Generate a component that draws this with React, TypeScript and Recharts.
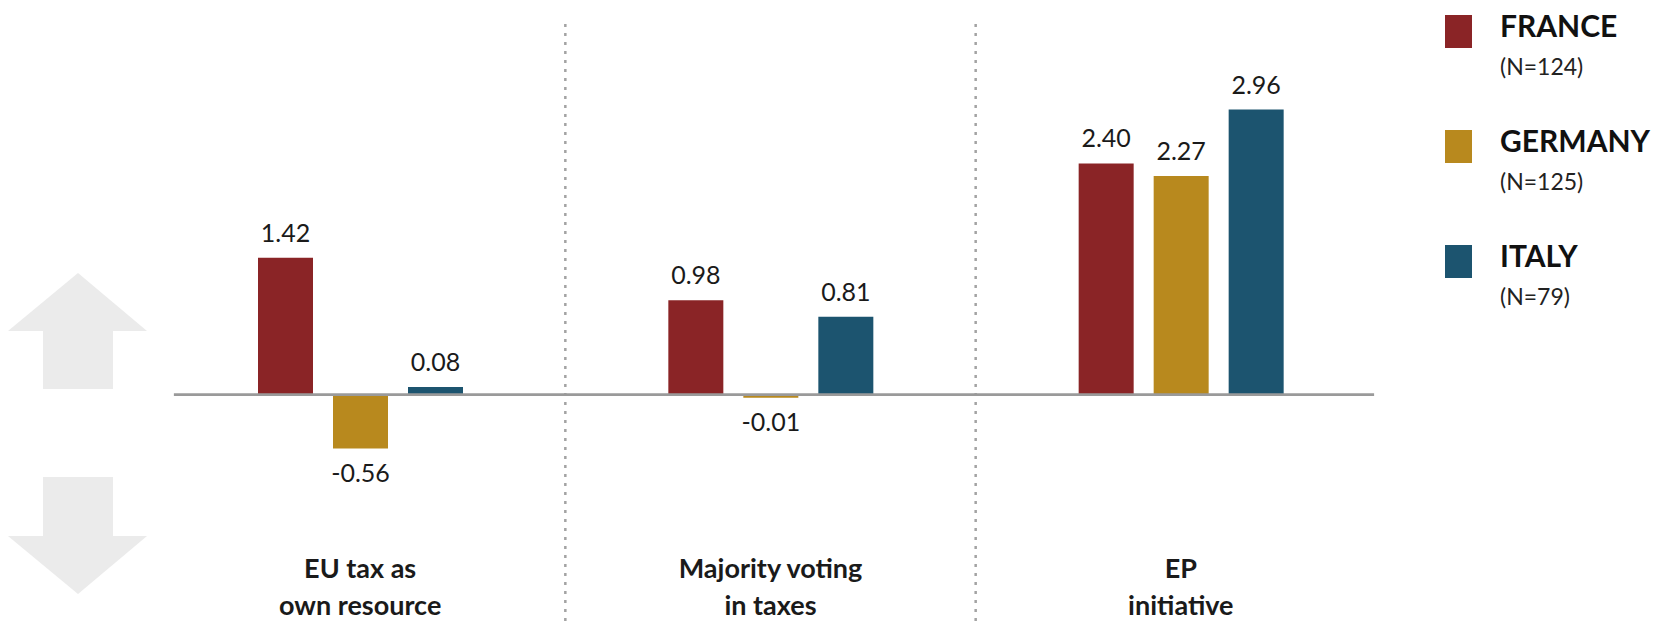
import React from "react";
import { BarChart, Bar, XAxis, YAxis, ReferenceLine, LabelList } from "recharts";

// category labels (two lines each)
const categories = [
  ["EU tax as", "own resource"],
  ["Majority voting", "in taxes"],
  ["EP", "initiative"],
];

const france = [1.42, 0.98, 2.4];
const germany = [-0.56, -0.01, 2.27];
const italy = [0.08, 0.81, 2.96];

const series = [
  { key: "france", name: "FRANCE", n: "(N=124)", color: "#8A2426" },
  { key: "germany", name: "GERMANY", n: "(N=125)", color: "#B8891E" },
  { key: "italy", name: "ITALY", n: "(N=79)", color: "#1C546F" },
];

const data = categories.map((lines, i) => ({
  id: lines.join(" "),
  idx: i,
  lines,
  france: france[i],
  germany: germany[i],
  italy: italy[i],
}));

const W = 1661;
const H = 621;
const FONT = "Lato, 'Open Sans', sans-serif";

// zero line runs a little short of the outer band edges (in category-index units)
const ZERO_FROM = -0.454;
const ZERO_TO = 2.471;

function CategoryTick(props: any) {
  const { x, y, payload } = props;
  const row = data.find((d) => d.id === payload.value);
  const lines = row ? row.lines : [String(payload.value)];
  return (
    <g>
      {lines.map((l, i) => (
        <text
          key={l}
          x={x}
          y={y - 43 + i * 37}
          textAnchor="middle"
          fontFamily={FONT}
          fontWeight={700}
          fontSize={27}
          fill="#1a1a1a"
        >
          {l}
        </text>
      ))}
    </g>
  );
}

function Arrows() {
  return (
    <svg width={160} height={H} style={{ position: "absolute", left: 0, top: 0 }}>
      <polygon points="78,273 147,331 113,331 113,389 43,389 43,331 8,331" fill="#ebebeb" />
      <polygon points="43,477 113,477 113,536 147,536 78,594 8,536 43,536" fill="#ebebeb" />
    </svg>
  );
}

function LegendBlock() {
  return (
    <div style={{ position: "absolute", left: 1445, top: 15, fontFamily: FONT, color: "#111" }}>
      {series.map((s) => (
        <div key={s.key} style={{ position: "relative", height: 115 }}>
          <div style={{ position: "absolute", left: 0, top: 0, width: 27, height: 33, background: s.color }} />
          <div style={{ position: "absolute", left: 55, top: -8, fontSize: 30, lineHeight: "36px", fontWeight: 700, whiteSpace: "nowrap" }}>
            {s.name}
          </div>
          <div style={{ position: "absolute", left: 55, top: 37, fontSize: 23, lineHeight: "28px", whiteSpace: "nowrap", color: "#222" }}>
            {s.n}
          </div>
        </div>
      ))}
    </div>
  );
}

export default function App() {
  return (
    <div style={{ position: "relative", width: W, height: H, background: "#fff", overflow: "hidden" }}>
      <style>{`body{margin:0}`}</style>
      <Arrows />
      <BarChart
        width={W}
        height={H}
        data={data}
        margin={{ top: 19, right: 275, bottom: -20, left: 155 }}
        barSize={55}
        barGap={20}
      >
        <XAxis
          dataKey="id"
          height={20}
          axisLine={false}
          tickLine={false}
          tickSize={0}
          tickMargin={0}
          interval={0}
          tick={<CategoryTick />}
        />
        <XAxis xAxisId="num" dataKey="idx" type="number" domain={[-0.5, 2.5]} allowDataOverflow hide />
        <YAxis hide domain={[-2.35, 3.9]} allowDataOverflow />
        <ReferenceLine x={data[1].id} position="start" stroke="#a3a3a3" strokeWidth={2.5} strokeDasharray="3 6" />
        <ReferenceLine x={data[2].id} position="start" stroke="#a3a3a3" strokeWidth={2.5} strokeDasharray="3 6" />
        <ReferenceLine
          xAxisId="num"
          segment={[
            { x: ZERO_FROM, y: 0 },
            { x: ZERO_TO, y: 0 },
          ]}
          stroke="#9a9a9a"
          strokeWidth={2.6}
        />
        {series.map((s) => (
          <Bar key={s.key} dataKey={s.key} fill={s.color} minPointSize={3} isAnimationActive={false}>
            <LabelList
              dataKey={s.key}
              position="top"
              offset={16}
              formatter={(v: any) => Number(v).toFixed(2)}
              style={{ fontFamily: FONT, fontSize: 25, fill: "#1a1a1a" }}
            />
          </Bar>
        ))}
      </BarChart>
      <LegendBlock />
    </div>
  );
}
